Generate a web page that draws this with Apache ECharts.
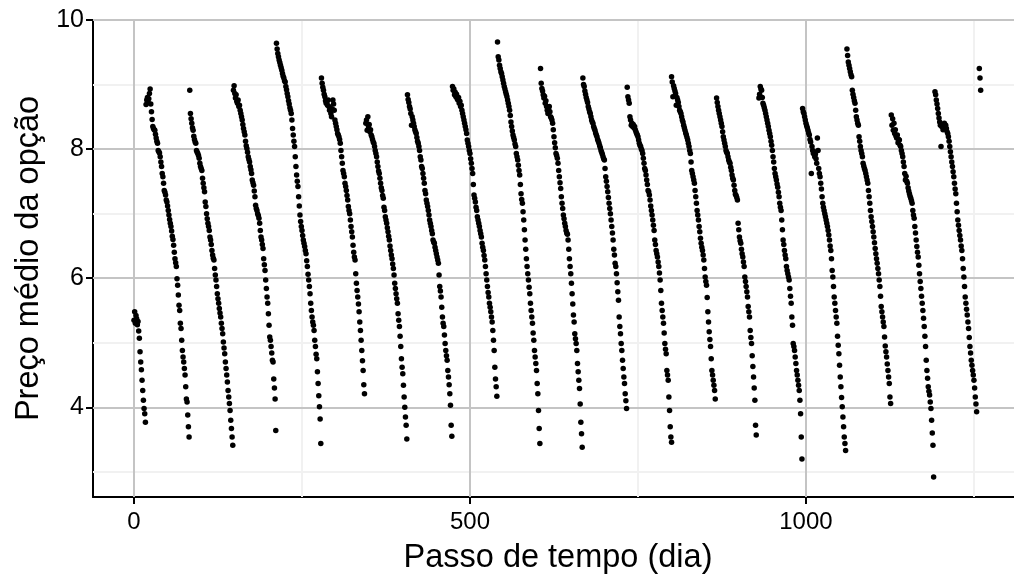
<!DOCTYPE html>
<html>
<head>
<meta charset="utf-8">
<script src="https://cdn.jsdelivr.net/npm/echarts@6/dist/echarts.min.js"></script>
<style>html,body{margin:0;padding:0;background:#fff}#chart{width:1014px;height:576px}</style>
</head>
<body>
<div id="chart"></div>
<script>
// Axis ticks and labels
const xTicks = [0, 500, 1000];
const xMinorGrid = [250, 750, 1250];
const yTicks = [4, 6, 8, 10];
const yMinorGrid = [3, 5, 7, 9];
const xAxisTitle = 'Passo de tempo (dia)';
const yAxisTitle = 'Preço médio da opção';

// First day (time step) of each option cycle
const cycleStarts = [0, 18, 83, 148, 212, 279, 345, 407, 474, 541, 605, 668, 734, 800, 867, 930, 995, 1061, 1127, 1192, 1258];

// Mean option price, one value per day, for each cycle
const c0 = [5.35,5.48,5.30,5.42,5.37,5.28,5.33,5.18,5.07,4.86,4.70,4.58,4.42,4.26,4.11,3.98,3.90,3.77];
const c1 = [8.69,8.76,8.80,8.72,8.78,8.86,8.93,8.70,8.58,8.46,8.35,8.32,8.30,8.29,8.23,8.17,8.12,8.09,7.98,7.96,7.94,7.88,7.80,7.73,7.62,7.57,7.47,7.36,7.33,7.29,7.21,7.18,7.12,7.05,6.98,6.91,6.85,6.80,6.73,6.65,6.60,6.51,6.40,6.30,6.24,6.18,5.99,5.89,5.74,5.58,5.50,5.30,5.22,5.04,4.88,4.78,4.70,4.60,4.50,4.32,4.13,4.08,3.88,3.70,3.54];
const c2 = [8.91,8.55,8.47,8.40,8.33,8.29,8.20,8.15,8.11,8.09,7.98,7.95,7.93,7.90,7.86,7.78,7.73,7.70,7.67,7.55,7.47,7.40,7.34,7.18,7.11,7.00,6.92,6.85,6.80,6.74,6.64,6.59,6.52,6.43,6.36,6.31,6.28,6.15,6.05,5.97,5.87,5.76,5.68,5.61,5.53,5.46,5.40,5.30,5.22,5.14,5.01,4.92,4.83,4.70,4.60,4.50,4.39,4.26,4.16,4.06,3.95,3.80,3.67,3.54,3.41];
const c3 = [8.91,8.98,8.86,8.79,8.84,8.74,8.71,8.76,8.66,8.68,8.60,8.55,8.50,8.45,8.38,8.32,8.27,8.22,8.12,8.05,8.01,7.95,7.88,7.84,7.80,7.73,7.68,7.62,7.52,7.48,7.44,7.35,7.26,7.13,7.08,7.05,7.00,6.97,6.93,6.85,6.74,6.64,6.59,6.52,6.46,6.30,6.21,6.12,5.97,5.84,5.71,5.61,5.45,5.27,5.09,5.04,4.94,4.84,4.73,4.70,4.44,4.30,4.13,3.64];
const c4 = [9.64,9.55,9.48,9.43,9.38,9.34,9.30,9.26,9.22,9.17,9.13,9.10,9.06,9.04,8.97,8.92,8.86,8.81,8.75,8.70,8.64,8.60,8.55,8.45,8.32,8.22,8.12,8.04,7.88,7.73,7.60,7.50,7.42,7.26,7.12,6.98,6.88,6.80,6.74,6.66,6.59,6.54,6.49,6.43,6.38,6.27,6.18,6.06,5.97,5.87,5.76,5.61,5.50,5.40,5.32,5.27,5.19,5.04,4.94,4.82,4.75,4.55,4.37,4.18,4.01,3.82,3.44];
const c5 = [9.10,9.02,8.96,8.91,8.85,8.81,8.75,8.71,8.73,8.68,8.76,8.66,8.60,8.64,8.55,8.50,8.62,8.76,8.70,8.60,8.45,8.40,8.35,8.30,8.24,8.22,8.19,8.15,8.09,7.98,7.88,7.78,7.67,7.62,7.57,7.47,7.42,7.36,7.28,7.21,7.11,7.05,7.00,6.90,6.80,6.72,6.64,6.51,6.40,6.33,6.28,6.07,5.92,5.81,5.71,5.60,5.48,5.32,5.19,5.04,4.88,4.72,4.57,4.35,4.21];
const c6 = [8.40,8.45,8.29,8.50,8.35,8.38,8.27,8.30,8.22,8.19,8.15,8.11,8.09,8.04,7.98,7.93,7.88,7.80,7.73,7.66,7.62,7.55,7.47,7.40,7.36,7.28,7.24,7.10,7.05,6.95,6.90,6.85,6.78,6.72,6.65,6.59,6.50,6.43,6.36,6.30,6.22,6.15,6.05,5.92,5.84,5.76,5.68,5.61,5.45,5.35,5.25,5.10,4.94,4.75,4.62,4.52,4.34,4.16,4.00,3.85,3.72,3.51];
const c7 = [8.84,8.77,8.72,8.66,8.62,8.55,8.37,8.50,8.45,8.40,8.35,8.30,8.27,8.24,8.18,8.12,8.09,8.04,7.98,7.88,7.83,7.73,7.70,7.62,7.55,7.47,7.36,7.31,7.21,7.16,7.11,7.05,6.98,6.90,6.85,6.80,6.74,6.69,6.59,6.56,6.54,6.48,6.43,6.38,6.33,6.28,6.23,6.05,5.87,5.80,5.71,5.55,5.40,5.30,5.25,5.12,4.99,4.88,4.80,4.73,4.57,4.47,4.35,4.21,4.03,3.72,3.55];
const c8 = [8.97,8.91,8.93,8.84,8.88,8.81,8.85,8.78,8.76,8.80,8.71,8.74,8.66,8.68,8.60,8.55,8.50,8.45,8.40,8.35,8.30,8.24,8.14,8.09,8.04,7.98,7.93,7.85,7.78,7.70,7.62,7.45,7.29,7.24,7.18,7.10,7.05,6.95,6.90,6.85,6.80,6.74,6.69,6.64,6.54,6.48,6.43,6.35,6.28,6.18,6.07,5.97,5.87,5.78,5.71,5.61,5.55,5.48,5.40,5.32,5.19,5.04,4.88,4.62,4.44,4.32,4.17];
const c9 = [9.66,9.43,9.38,9.30,9.25,9.20,9.17,9.12,9.07,9.02,8.97,8.93,8.89,8.85,8.81,8.76,8.71,8.66,8.60,8.52,8.42,8.35,8.28,8.22,8.18,8.14,8.08,8.04,7.93,7.88,7.83,7.75,7.67,7.60,7.45,7.31,7.22,7.16,7.03,6.90,6.75,6.59,6.45,6.30,6.18,6.07,5.97,5.86,5.76,5.61,5.50,5.40,5.30,5.15,5.04,4.88,4.78,4.68,4.57,4.37,4.21,3.95,3.67,3.44];
const c10 = [9.25,9.02,8.94,8.90,8.84,8.79,8.82,8.71,8.75,8.66,8.60,8.55,8.62,8.66,8.58,8.50,8.48,8.45,8.40,8.30,8.19,8.10,8.02,7.93,7.90,7.86,7.78,7.67,7.57,7.48,7.39,7.26,7.16,7.08,6.98,6.92,6.85,6.80,6.74,6.70,6.68,6.59,6.45,6.30,6.18,6.07,5.92,5.76,5.60,5.43,5.32,5.14,5.06,4.99,4.88,4.68,4.55,4.42,4.29,4.05,3.77,3.59,3.38];
const c11 = [9.10,9.00,8.97,8.90,8.85,8.80,8.76,8.72,8.66,8.62,8.58,8.55,8.50,8.45,8.42,8.40,8.35,8.32,8.29,8.25,8.22,8.19,8.15,8.12,8.09,8.05,8.02,7.98,7.95,7.92,7.88,7.85,7.83,7.70,7.57,7.50,7.42,7.34,7.25,7.16,7.08,7.00,6.90,6.80,6.70,6.59,6.45,6.36,6.23,6.18,6.07,5.93,5.79,5.66,5.40,5.25,5.14,4.99,4.88,4.73,4.60,4.47,4.37,4.21,4.10,3.98];
const c12 = [8.96,8.81,8.76,8.71,8.50,8.45,8.37,8.40,8.35,8.38,8.33,8.35,8.30,8.27,8.24,8.22,8.19,8.14,8.09,8.06,8.04,8.00,7.98,7.93,7.86,7.78,7.70,7.67,7.60,7.52,7.45,7.36,7.34,7.29,7.21,7.12,7.05,6.98,6.90,6.82,6.74,6.59,6.52,6.43,6.38,6.33,6.25,6.18,6.08,5.97,5.81,5.61,5.50,5.40,5.30,5.15,4.99,4.90,4.83,4.57,4.50,4.42,4.16,3.95,3.70,3.54,3.46];
const c13 = [9.12,9.04,8.81,8.98,8.94,8.90,8.86,8.68,8.80,8.76,8.72,8.66,8.60,8.58,8.55,8.50,8.45,8.42,8.37,8.33,8.29,8.25,8.22,8.18,8.14,8.09,8.04,7.98,7.93,7.80,7.67,7.62,7.57,7.52,7.47,7.36,7.26,7.16,7.05,6.98,6.90,6.80,6.72,6.62,6.54,6.48,6.43,6.36,6.28,6.15,6.02,5.95,5.89,5.70,5.48,5.32,5.17,5.05,4.94,4.75,4.57,4.50,4.42,4.34,4.26,4.13];
const c14 = [8.79,8.72,8.66,8.60,8.55,8.50,8.45,8.40,8.35,8.27,8.19,8.14,8.09,8.04,7.98,7.95,7.93,7.88,7.83,7.80,7.78,7.72,7.67,7.60,7.55,7.52,7.44,7.36,7.30,7.28,7.25,7.21,6.85,6.75,6.64,6.58,6.54,6.45,6.38,6.33,6.25,6.18,6.02,5.95,5.87,5.79,5.71,5.56,5.48,5.40,5.19,5.08,4.99,4.80,4.63,4.47,4.30,4.11,3.72,3.57];
const c15 = [8.79,8.85,8.97,8.93,8.91,8.80,8.71,8.68,8.64,8.60,8.55,8.50,8.45,8.40,8.35,8.29,8.24,8.19,8.12,8.06,7.98,7.88,7.80,7.70,7.62,7.57,7.52,7.46,7.41,7.33,7.26,7.16,7.10,7.05,6.90,6.75,6.59,6.52,6.43,6.36,6.30,6.18,6.12,6.07,6.02,5.97,5.84,5.72,5.61,5.40,5.27,4.99,4.94,4.88,4.78,4.68,4.57,4.50,4.42,4.34,4.26,4.11,3.90,3.54,3.20];
const c16 = [8.63,8.58,8.55,8.50,8.45,8.40,8.36,8.33,8.29,8.25,8.22,8.15,8.11,7.62,8.04,7.98,7.93,7.96,7.88,7.92,7.85,7.78,8.17,7.98,7.70,7.62,7.57,7.47,7.38,7.26,7.16,7.10,7.05,7.00,6.95,6.90,6.85,6.80,6.74,6.67,6.59,6.50,6.43,6.30,6.12,6.02,5.87,5.71,5.61,5.50,5.40,5.30,5.10,4.96,4.83,4.65,4.47,4.32,4.15,4.01,3.85,3.70,3.54,3.44,3.33];
const c17 = [9.55,9.45,9.35,9.30,9.25,9.20,9.15,9.12,8.91,8.85,8.80,8.75,8.71,8.60,8.50,8.45,8.40,8.37,8.19,8.12,8.04,7.98,7.93,7.88,7.78,7.74,7.70,7.67,7.62,7.57,7.52,7.47,7.36,7.26,7.16,7.05,6.95,6.88,6.80,6.72,6.64,6.55,6.46,6.38,6.30,6.23,6.15,6.07,5.97,5.87,5.72,5.56,5.48,5.40,5.32,5.25,5.09,4.95,4.86,4.78,4.67,4.57,4.47,4.37,4.16,4.06];
const c18 = [8.53,8.37,8.47,8.29,8.40,8.24,8.30,8.20,8.17,8.22,8.10,8.15,8.14,8.06,8.04,7.98,7.93,7.88,7.80,7.73,7.62,7.52,7.58,7.50,7.47,7.40,7.35,7.31,7.27,7.24,7.20,7.16,7.05,6.98,6.93,6.80,6.70,6.59,6.49,6.40,6.33,6.20,6.07,5.95,5.84,5.72,5.61,5.50,5.38,5.25,5.10,4.94,4.73,4.57,4.45,4.32,4.25,4.19,4.08,3.98,3.80,3.60,3.41,2.92];
const c19 = [8.89,8.84,8.76,8.70,8.63,8.55,8.48,8.42,8.37,8.04,8.35,8.38,8.30,8.35,8.40,8.33,8.37,8.32,8.27,8.24,8.19,8.12,8.04,7.96,7.88,7.80,7.73,7.65,7.57,7.47,7.38,7.31,7.16,7.03,6.90,6.82,6.74,6.66,6.59,6.50,6.43,6.30,6.15,6.02,5.87,5.71,5.61,5.52,5.43,5.32,5.22,5.08,4.94,4.84,4.73,4.65,4.57,4.50,4.42,4.30,4.16,4.05,3.93];
const c20 = [9.25,9.10,8.91];

const cycles = [c0,c1,c2,c3,c4,c5,c6,c7,c8,c9,c10,c11,c12,c13,c14,c15,c16,c17,c18,c19,c20];

const points = [];
cycles.forEach((vals, k) => {
  vals.forEach((v, i) => points.push([cycleStarts[k] + i, v]));
});

const FONT = "'Liberation Sans', Arial, Helvetica, sans-serif";
const majorStyle = {color: '#c4c4c4', width: 2, type: 'solid'};
const minorStyle = {color: '#f1f1f1', width: 2, type: 'solid'};

const gridLines = [];
xMinorGrid.forEach(v => gridLines.push({xAxis: v, lineStyle: minorStyle}));
yMinorGrid.forEach(v => gridLines.push({yAxis: v, lineStyle: minorStyle}));
xTicks.forEach(v => gridLines.push({xAxis: v, lineStyle: majorStyle}));
yTicks.forEach(v => gridLines.push({yAxis: v, lineStyle: majorStyle}));

const chart = echarts.init(document.getElementById('chart'), null, {renderer: 'canvas'});
chart.setOption({
  animation: false,
  backgroundColor: '#ffffff',
  grid: {left: 93, right: -9, top: 20, bottom: 79, containLabel: false, outerBoundsMode: 'none'},
  xAxis: {
    type: 'value', min: -61, max: 1323,
    name: xAxisTitle, nameLocation: 'middle', nameGap: 45,
    nameTextStyle: {fontSize: 32.5, color: '#000', fontFamily: FONT},
    axisLine: {show: true, onZero: false, lineStyle: {color: '#000', width: 2}},
    axisTick: {show: true, customValues: xTicks, length: 7, lineStyle: {color: '#000', width: 2}},
    axisLabel: {customValues: xTicks, formatter: v => String(v), fontSize: 24, color: '#000', margin: 13, fontFamily: FONT},
    splitLine: {show: false}
  },
  yAxis: {
    type: 'value', min: 2.61, max: 10,
    name: yAxisTitle, nameLocation: 'middle', nameGap: 47, nameRotate: 90,
    nameTextStyle: {fontSize: 32.5, color: '#000', fontFamily: FONT},
    axisLine: {show: true, onZero: false, lineStyle: {color: '#000', width: 2}},
    axisTick: {show: true, customValues: yTicks, length: 7, lineStyle: {color: '#000', width: 2}},
    axisLabel: {customValues: yTicks, formatter: v => String(v), fontSize: 25, color: '#000', margin: 9, fontFamily: FONT},
    splitLine: {show: false}
  },
  series: [
    {
      type: 'scatter', data: [], z: 1, silent: true,
      markLine: {silent: true, z: 1, symbol: ['none', 'none'], label: {show: false}, animation: false, data: gridLines}
    },
    {
      type: 'scatter', data: points, z: 4, symbol: 'circle', symbolSize: 5.5,
      itemStyle: {color: '#000', opacity: 1}
    }
  ]
});
</script>
</body>
</html>
